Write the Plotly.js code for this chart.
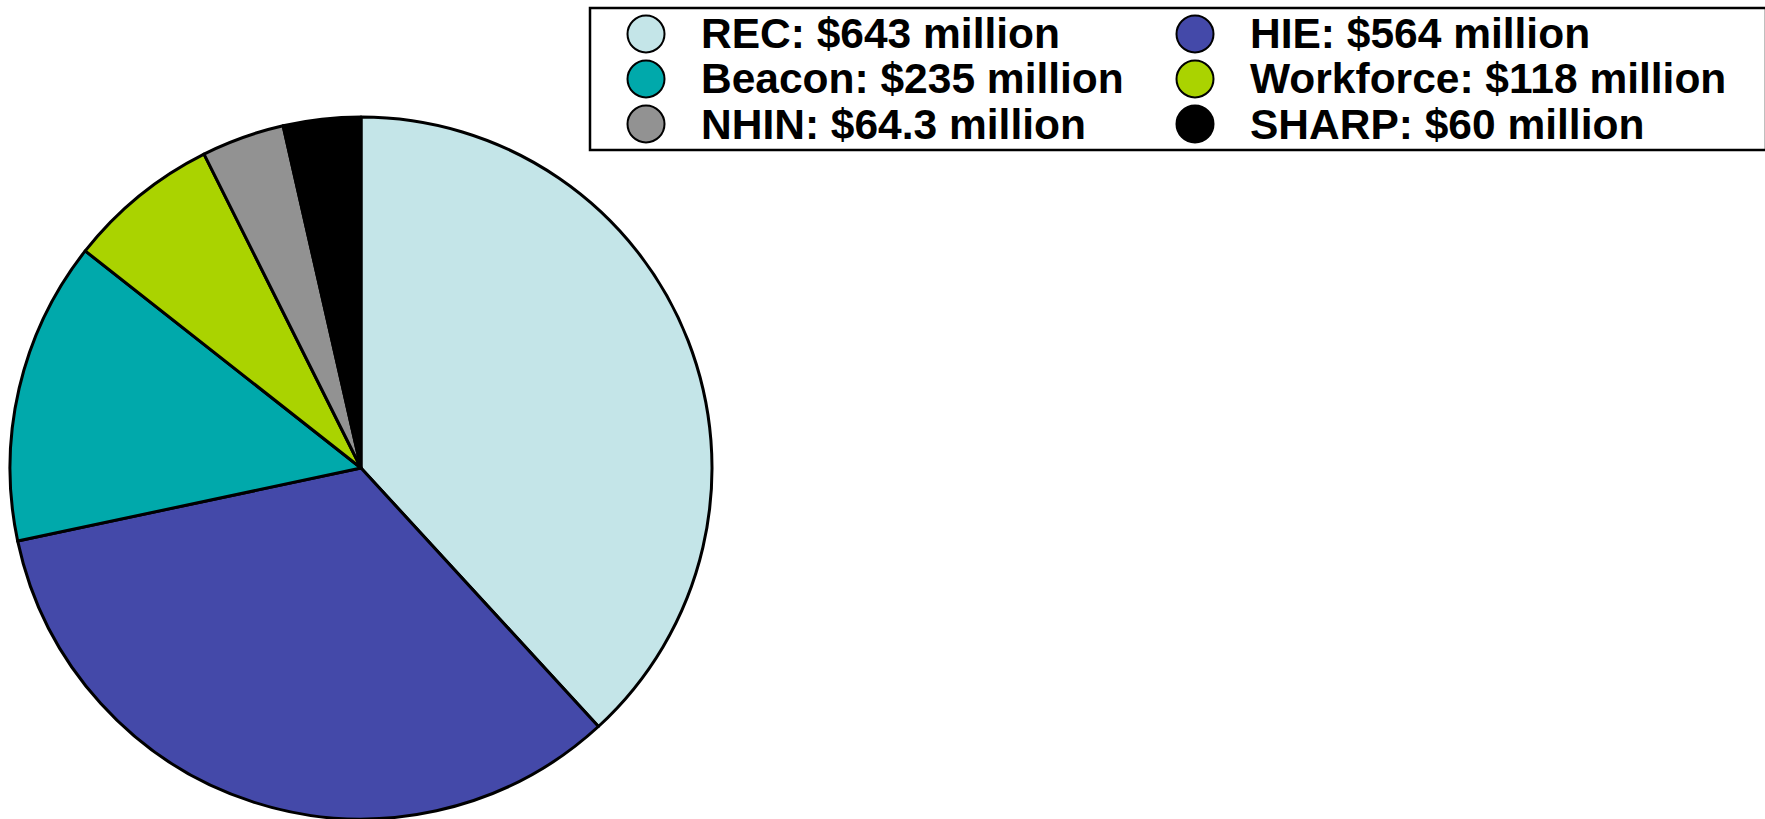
<!DOCTYPE html>
<html>
<head>
<meta charset="utf-8">
<script src="https://cdn.plot.ly/plotly-3.0.1.min.js"></script>
<style>html,body{margin:0;padding:0;background:#fff;}#chart{width:1765px;height:819px;}</style>
</head>
<body>
<div id="chart"></div>
<script>
// ---- data ----
const labels = ['REC', 'HIE', 'Beacon', 'Workforce', 'NHIN', 'SHARP'];
const values = [643, 564, 235, 118, 64.3, 60];
const amountText = ['$643 million', '$564 million', '$235 million', '$118 million', '$64.3 million', '$60 million'];
const colors = ['#C4E5E8', '#4449A9', '#00A9AB', '#AAD300', '#929292', '#000000'];

// ---- layout helpers (pixels -> paper fractions) ----
const W = 1765, H = 819;
const px = x => x / W;
const py = y => 1 - y / H;

const legendColX = [646, 1195];      // circle centres
const legendTextX = [699, 1248];     // text left edges
const legendRowY = [34, 79, 124];    // row centres
const dotR = 18.5;

const annotations = [];
const shapes = [{
  type: 'rect', xref: 'paper', yref: 'paper',
  x0: px(590), x1: px(1766), y0: py(150), y1: py(8),
  line: {color: '#000', width: 2.5}, fillcolor: 'rgba(0,0,0,0)'
}];
labels.forEach((lab, i) => {
  const c = i % 2, r = Math.floor(i / 2);
  annotations.push({
    xref: 'paper', yref: 'paper', x: px(legendTextX[c]), y: py(legendRowY[r]),
    xanchor: 'left', yanchor: 'middle', showarrow: false,
    text: lab + ': ' + amountText[i],
    font: {family: 'Liberation Sans, Arial, sans-serif', size: 42.5, color: '#000', weight: 'bold'}
  });
  shapes.push({
    type: 'circle', xref: 'paper', yref: 'paper',
    x0: px(legendColX[c] - dotR), x1: px(legendColX[c] + dotR),
    y0: py(legendRowY[r] + dotR), y1: py(legendRowY[r] - dotR),
    fillcolor: colors[i], line: {color: '#000', width: 2}
  });
});

const trace = {
  type: 'pie',
  labels: labels,
  values: values,
  sort: false,
  direction: 'clockwise',
  rotation: 0,
  textinfo: 'none',
  hoverinfo: 'label+value+percent',
  marker: {colors: colors, line: {color: '#000', width: 3}},
  domain: {x: [px(10), px(712)], y: [py(819), py(117)]},
  showlegend: false
};

const layout = {
  width: W, height: H,
  margin: {l: 0, r: 0, t: 0, b: 0},
  paper_bgcolor: '#fff', plot_bgcolor: '#fff',
  showlegend: false,
  annotations: annotations,
  shapes: shapes
};

Plotly.newPlot('chart', [trace], layout, {displayModeBar: false});
</script>
</body>
</html>
